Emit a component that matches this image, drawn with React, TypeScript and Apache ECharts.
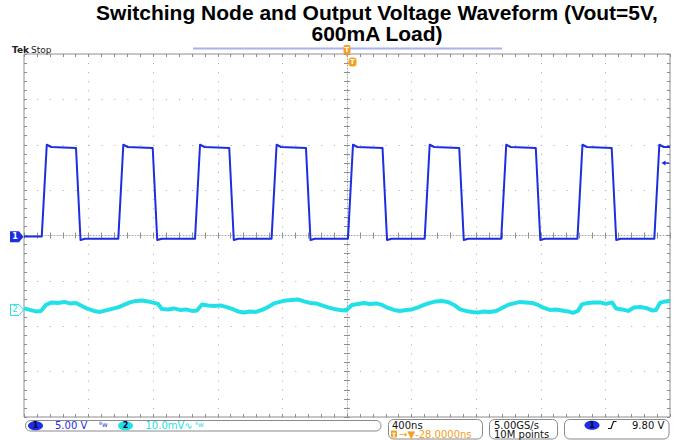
import React, { useEffect, useRef } from "react";
import * as echarts from "echarts";

// ---------- text ----------
const titleLines = ["Switching Node and Output Voltage Waveform (Vout=5V,", "600mA Load)"];
const headerLabels = ["Tek", "Stop"];
const ch1ScaleLabel = "5.00 V";
const ch2ScaleLabel = "10.0mV";
const timebaseLabel = "400ns";
const delayLabel = "→▼-28.0000ns";
const sampleRateLabels = ["5.00GS/s", "10M points"];
const triggerLevelLabel = "9.80 V";

// ---------- axes ----------
const timeMinNs = -2000;
const timeMaxNs = 2000;
const timePerDivNs = 400;
const divMin = -4;
const divMax = 4;

// ---------- CH1 (switching node) ----------
const ch1VoltsPerDiv = 5;
const ch1GroundDiv = -0.03;
const ch1RiseStartNs = [-1890, -1416, -941, -467, 6, 481, 955, 1427, 1903];
const ch1FallStartNs = [-1678, -1203, -729, -254, 220, 695, 1169, 1639];
const ch1RiseTimeNs = 31;
const ch1FallTimeNs = 28;
const ch1SettleNs = 28;
const ch1StartLowV = 0.05;
const ch1OvershootV = 10.15;
const ch1HighV = 9.9;
const ch1HighEndV = 9.8;
const ch1UndershootV = -0.35;
const ch1LowV = -0.2;

// ---------- CH2 (output ripple, AC) ----------
const ch2MilliVoltsPerDiv = 10;
const ch2GroundDiv = -1.64;
const ch2Points: [number, number][] = [
  [-2000, 0.33], [-1963, 0], [-1926, -0.33], [-1895, -0.22], [-1864, 1.1], [-1827, 1.65],
  [-1789, 1.54], [-1752, 1.76], [-1715, 1.43], [-1678, 1.54], [-1641, 0.88], [-1604, 0.22],
  [-1567, -0.22], [-1530, -0.44], [-1492, -0.11], [-1455, 0.22], [-1418, 0.55], [-1381, 1.1],
  [-1344, 1.65], [-1307, 1.98], [-1270, 2.09], [-1233, 1.87], [-1195, 1.54], [-1170, 1.32],
  [-1146, 0.22], [-1108, 0.11], [-1071, 0.33], [-1034, 0], [-997, 0.11], [-960, -0.22],
  [-929, -0.11], [-898, 1.21], [-861, 0.99], [-824, 0.88], [-786, 0.99], [-749, 0.66],
  [-712, 0.22], [-675, -0.33], [-638, -0.55], [-601, -0.33], [-563, -0.44], [-526, 0],
  [-489, 0.66], [-452, 1.43], [-415, 1.76], [-378, 2.09], [-341, 2.2], [-303, 2.31],
  [-266, 1.87], [-229, 1.54], [-192, 1.43], [-155, 0.99], [-118, 0.55], [-80, 0.22],
  [-43, 0], [-6, -0.11], [31, 1.1], [68, 1.32], [105, 1.54], [142, 1.32],
  [180, 1.43], [217, 1.1], [254, 0.44], [291, 0], [328, -0.22], [365, 0],
  [402, 0.11], [440, 0.55], [477, 1.1], [514, 1.54], [551, 1.87], [588, 1.98],
  [625, 1.76], [663, 1.1], [700, 0.11], [737, -0.22], [774, -0.44], [811, -0.55],
  [848, -0.33], [885, -0.44], [923, -0.22], [960, 0.44], [997, 1.1], [1034, 1.43],
  [1071, 1.76], [1108, 1.65], [1146, 1.54], [1183, 1.1], [1220, 0.44], [1257, 0],
  [1294, 0.11], [1331, -0.11], [1368, -0.33], [1399, -0.66], [1430, -0.22], [1455, 1.21],
  [1492, 1.54], [1529, 1.65], [1567, 1.65], [1604, 1.32], [1641, 1.65], [1666, 0.33],
  [1703, 0.11], [1740, -0.22], [1777, 0.55], [1814, 0.66], [1851, 0.44], [1889, -0.11],
  [1913, 0], [1938, 1.54], [1969, 1.87], [2000, 1.98],
];

// ---------- build CH1 polyline from the edge lists ----------
function buildCh1(): [number, number][] {
  const pts: [number, number][] = [[timeMinNs, ch1StartLowV]];
  ch1RiseStartNs.forEach((r, i) => {
    pts.push([r, i === 0 ? ch1StartLowV : ch1LowV]);
    pts.push([r + ch1RiseTimeNs, ch1OvershootV]);
    pts.push([r + ch1RiseTimeNs + ch1SettleNs, ch1HighV]);
    const f = ch1FallStartNs[i];
    if (f !== undefined) {
      pts.push([f, ch1HighEndV]);
      pts.push([f + ch1FallTimeNs, ch1UndershootV]);
      pts.push([f + ch1FallTimeNs + ch1SettleNs, ch1LowV]);
    } else {
      pts.push([timeMaxNs, ch1HighV]);
    }
  });
  return pts;
}

const W = 676;
const H = 440;
const GRID = { left: 24, top: 54, width: 646, height: 363 };
const BLUE = "#1c2ee0";
const CYAN = "#22e0e8";
const ORANGE = "#f4a020";
const GRAT = "#8e8e8e";
const DOT = "#a8a8a8";
const FONT = "DejaVu Sans, Verdana, sans-serif";
const TITLE_FONT = `bold 21px "Liberation Sans", Arial, sans-serif`;

function divToY(div: number) {
  return GRID.top + ((divMax - div) / (divMax - divMin)) * GRID.height;
}

export default function App() {
  const ref = useRef<HTMLDivElement>(null);
  useEffect(() => {
    if (!ref.current) return;
    const chart = echarts.init(ref.current, undefined, { renderer: "svg" });
    const pxPerMinorX = GRID.width / ((timeMaxNs - timeMinNs) / timePerDivNs) / 5;
    const pxPerMinorY = GRID.height / (divMax - divMin) / 5;

    const borderAxisX = (position: string, inside: boolean, extra: any = {}) => ({
      type: "value",
      min: timeMinNs,
      max: timeMaxNs,
      interval: timePerDivNs,
      position,
      axisLine: { show: false, onZero: false },
      axisTick: { show: true, inside, length: 3, lineStyle: { color: GRAT, width: 1 } },
      minorTick: { show: true, splitNumber: 5, length: 3, lineStyle: { color: GRAT, width: 1 } },
      axisLabel: { show: false },
      splitLine: { show: false },
      ...extra,
    });
    const borderAxisY = (position: string, inside: boolean, extra: any = {}) => ({
      type: "value",
      min: divMin,
      max: divMax,
      interval: 1,
      position,
      axisLine: { show: false, onZero: false },
      axisTick: { show: true, inside, length: 3, lineStyle: { color: GRAT, width: 1 } },
      minorTick: { show: true, splitNumber: 5, length: 3, lineStyle: { color: GRAT, width: 1 } },
      axisLabel: { show: false },
      splitLine: { show: false },
      ...extra,
    });

    const ch1Ground = divToY(ch1GroundDiv);
    const ch2Ground = divToY(ch2GroundDiv);

    const badge = (cx: number, cy: number, fill: string, label: string) => [
      { type: "ellipse", shape: { cx, cy, rx: 7.5, ry: 4.5 }, style: { fill }, z: 10 },
      {
        type: "text",
        x: cx,
        y: cy,
        style: { text: label, fill: "#000033", font: `bold 8px ${FONT}`, align: "center", verticalAlign: "middle" },
        z: 11,
      },
    ];
    const txt = (x: number, y: number, text: string, fill: string, size = 10, extra: any = {}) => ({
      type: "text",
      x,
      y,
      style: { text, fill, font: `${size}px ${FONT}`, verticalAlign: "middle", ...extra },
      z: 10,
    });
    const box = (x: number, y: number, w: number, h: number) => ({
      type: "rect",
      shape: { x, y, width: w, height: h, r: 5 },
      style: { fill: "#fff", stroke: "#8a8a8a", lineWidth: 1 },
      z: 9,
    });

    const graphics: any[] = [
      // title
      {
        type: "text",
        x: 377,
        y: 12.5,
        style: { text: titleLines[0], fill: "#000", font: TITLE_FONT, align: "center", verticalAlign: "middle" },
      },
      {
        type: "text",
        x: 377,
        y: 33.5,
        style: { text: titleLines[1], fill: "#000", font: TITLE_FONT, align: "center", verticalAlign: "middle" },
      },
      // header
      txt(12, 49.5, headerLabels[0], "#222", 9, { font: `bold 9px ${FONT}` }),
      txt(31, 49.5, headerLabels[1], "#222", 9),
      { type: "line", shape: { x1: 193, y1: 48.5, x2: 502, y2: 48.5 }, style: { stroke: "#a9b1f0", lineWidth: 2 }, z: 5 },
      // trigger position markers
      { type: "rect", shape: { x: 343.5, y: 45, width: 7, height: 9, r: 2 }, style: { fill: ORANGE }, z: 12 },
      { type: "polygon", shape: { points: [[345, 53], [349, 53], [347, 57]] }, style: { fill: ORANGE }, z: 12 },
      {
        type: "text", x: 347, y: 49.5,
        style: { text: "T", fill: "#fff", font: `bold 7px ${FONT}`, align: "center", verticalAlign: "middle" }, z: 13,
      },
      { type: "rect", shape: { x: 348.5, y: 57.5, width: 8, height: 9, r: 3 }, style: { fill: ORANGE }, z: 12 },
      {
        type: "text", x: 352.5, y: 62,
        style: { text: "T", fill: "#fff", font: `bold 7px ${FONT}`, align: "center", verticalAlign: "middle" }, z: 13,
      },
      // channel ground markers
      {
        type: "polygon",
        shape: { points: [[10, ch1Ground - 5.5], [19, ch1Ground - 5.5], [23.5, ch1Ground], [19, ch1Ground + 5.5], [10, ch1Ground + 5.5]] },
        style: { fill: BLUE },
        z: 12,
      },
      {
        type: "text", x: 15, y: ch1Ground,
        style: { text: "1", fill: "#fff", font: `bold 8px ${FONT}`, align: "center", verticalAlign: "middle" }, z: 13,
      },
      {
        type: "polygon",
        shape: { points: [[10.5, ch2Ground - 5.5], [19, ch2Ground - 5.5], [23.5, ch2Ground], [19, ch2Ground + 5.5], [10.5, ch2Ground + 5.5]] },
        style: { fill: "#fff", stroke: CYAN, lineWidth: 1 },
        z: 12,
      },
      {
        type: "text", x: 15, y: ch2Ground,
        style: { text: "2", fill: CYAN, font: `8px ${FONT}`, align: "center", verticalAlign: "middle" }, z: 13,
      },
      // trigger level arrow (right edge)
      { type: "polygon", shape: { points: [[661.5, 163], [665.5, 160.5], [665.5, 165.5]] }, style: { fill: BLUE }, z: 12 },
      { type: "line", shape: { x1: 665, y1: 163, x2: 669, y2: 163 }, style: { stroke: BLUE, lineWidth: 1.5 }, z: 12 },
      // status bar
      box(25.5, 420.5, 355.5, 10.5),
      ...badge(35.5, 425.7, BLUE, "1"),
      txt(55, 425.7, ch1ScaleLabel, BLUE, 10),
      txt(99, 425, "ᴮw", BLUE, 7),
      ...badge(125.5, 425.7, CYAN, "2"),
      txt(145.5, 425.7, ch2ScaleLabel + "∿", CYAN, 10),
      txt(195, 425, "ᴮw", CYAN, 7),
      box(388.5, 419.5, 94, 19.5),
      txt(392, 425, timebaseLabel, "#111", 10),
      { type: "rect", shape: { x: 391, y: 430.5, width: 6, height: 7, r: 1 }, style: { fill: ORANGE }, z: 10 },
      {
        type: "text", x: 394, y: 434,
        style: { text: "T", fill: "#fff", font: `bold 6px ${FONT}`, align: "center", verticalAlign: "middle" }, z: 11,
      },
      txt(399, 434.5, delayLabel, ORANGE, 10),
      box(489.5, 419.5, 68, 19.5),
      txt(494, 425, sampleRateLabels[0], "#111", 10),
      txt(494, 434.5, sampleRateLabels[1], "#111", 10),
      box(564.5, 419.5, 104.5, 19.5),
      ...badge(592, 425.2, BLUE, "1"),
      {
        type: "polyline",
        shape: { points: [[608, 428.5], [611, 428.5], [613.5, 421.5], [616.5, 421.5]] },
        style: { stroke: "#111", lineWidth: 1.2, fill: "none" },
        z: 10,
      },
      txt(632, 425, triggerLevelLabel, "#111", 10),
    ];

    chart.setOption({
      animation: false,
      backgroundColor: "#fff",
      grid: {
        left: GRID.left,
        top: GRID.top,
        width: GRID.width,
        height: GRID.height,
        show: true,
        borderColor: GRAT,
        borderWidth: 1,
        backgroundColor: "#fff",
        containLabel: false,
      },
      xAxis: [
        borderAxisX("bottom", true, {
          splitLine: { show: true, lineStyle: { color: DOT, width: 1, type: [1, pxPerMinorY - 1] } },
        }),
        borderAxisX("top", true),
        borderAxisX("bottom", true, {
          axisLine: { show: true, onZero: true, onZeroAxisIndex: 0, lineStyle: { color: DOT, width: 1, type: [1, 2] } },
        }),
        borderAxisX("bottom", false, {
          axisLine: { show: false, onZero: true, onZeroAxisIndex: 0 },
        }),
      ],
      yAxis: [
        borderAxisY("left", true, {
          splitLine: { show: true, lineStyle: { color: DOT, width: 1, type: [1, pxPerMinorX - 1] } },
        }),
        borderAxisY("right", true),
        borderAxisY("left", true, {
          axisLine: { show: true, onZero: true, onZeroAxisIndex: 0, lineStyle: { color: DOT, width: 1, type: [1, 2] } },
        }),
        borderAxisY("left", false, {
          axisLine: { show: false, onZero: true, onZeroAxisIndex: 0 },
        }),
        {
          type: "value",
          show: false,
          min: (divMin - ch1GroundDiv) * ch1VoltsPerDiv,
          max: (divMax - ch1GroundDiv) * ch1VoltsPerDiv,
          splitLine: { show: false },
        },
        {
          type: "value",
          show: false,
          min: (divMin - ch2GroundDiv) * ch2MilliVoltsPerDiv,
          max: (divMax - ch2GroundDiv) * ch2MilliVoltsPerDiv,
          splitLine: { show: false },
        },
      ],
      series: [
        {
          name: "CH2",
          type: "line",
          xAxisIndex: 0,
          yAxisIndex: 5,
          data: ch2Points,
          showSymbol: false,
          lineStyle: { color: CYAN, width: 4, join: "round" },
          z: 3,
        },
        {
          name: "CH1",
          type: "line",
          xAxisIndex: 0,
          yAxisIndex: 4,
          data: buildCh1(),
          showSymbol: false,
          lineStyle: { color: BLUE, width: 2, join: "round" },
          z: 4,
        },
      ],
      graphic: { elements: graphics },
    });
    return () => chart.dispose();
  }, []);
  return <div ref={ref} style={{ width: W, height: H, position: "absolute", left: 0, top: 0 }} />;
}
